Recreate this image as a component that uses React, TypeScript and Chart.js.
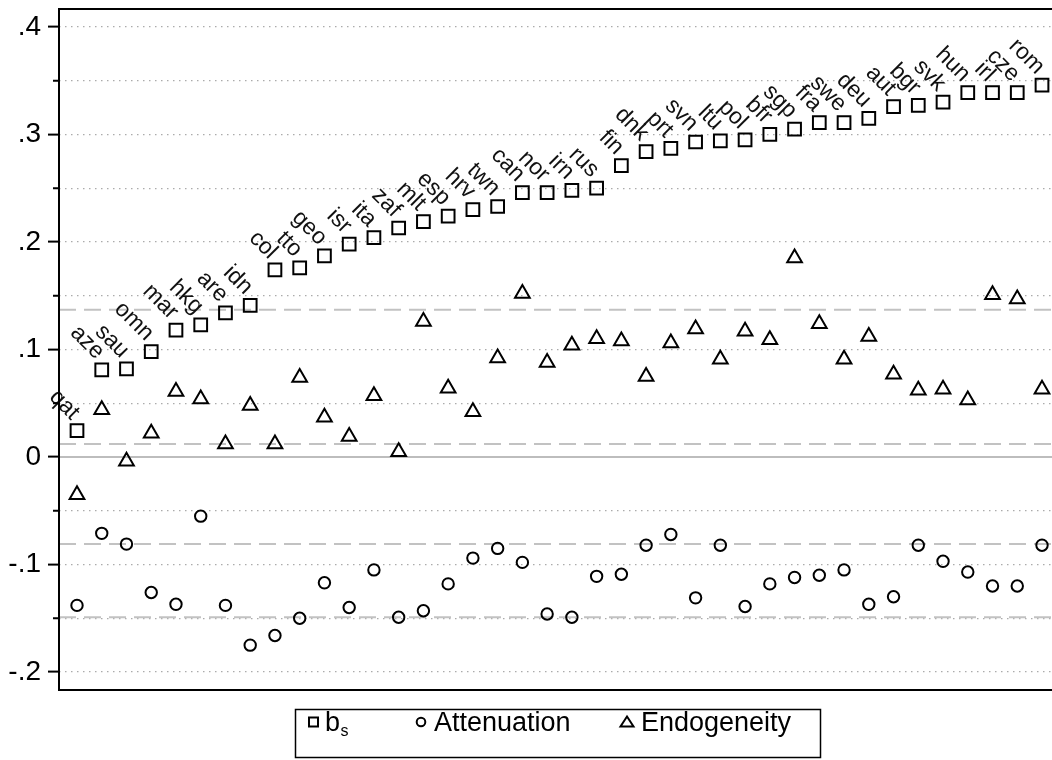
import React, { useEffect, useRef } from 'react';
import { Chart, registerables } from 'chart.js';

Chart.register(...registerables);

const countries = ['qat', 'aze', 'sau', 'omn', 'mar', 'hkg', 'are', 'idn', 'col', 'tto', 'geo', 'isr', 'ita', 'zaf', 'mlt', 'esp', 'hrv', 'twn', 'can', 'nor', 'irn', 'rus', 'fin', 'dnk', 'prt', 'svn', 'ltu', 'pol', 'bfr', 'sgp', 'fra', 'swe', 'deu', 'aut', 'bgr', 'svk', 'hun', 'irl', 'cze', 'rom'];

const bsValues = [0.0245, 0.081, 0.082, 0.098, 0.118, 0.123, 0.134, 0.141, 0.174, 0.176, 0.187, 0.198, 0.204, 0.213, 0.219, 0.224, 0.23, 0.233, 0.246, 0.246, 0.248, 0.25, 0.271, 0.284, 0.287, 0.293, 0.294, 0.295, 0.3, 0.305, 0.311, 0.311, 0.315, 0.326, 0.327, 0.33, 0.339, 0.339, 0.339, 0.346];

const attenuationValues = [-0.138, -0.071, -0.081, -0.126, -0.137, -0.055, -0.138, -0.175, -0.166, -0.15, -0.117, -0.14, -0.105, -0.149, -0.143, -0.118, -0.094, -0.085, -0.098, -0.146, -0.149, -0.111, -0.109, -0.082, -0.072, -0.131, -0.082, -0.139, -0.118, -0.112, -0.11, -0.105, -0.137, -0.13, -0.082, -0.097, -0.107, -0.12, -0.12, -0.082];

const endogeneityValues = [-0.035, 0.044, -0.004, 0.022, 0.061, 0.054, 0.012, 0.048, 0.012, 0.074, 0.037, 0.019, 0.057, 0.005, 0.126, 0.064, 0.042, 0.092, 0.152, 0.088, 0.104, 0.11, 0.108, 0.075, 0.106, 0.119, 0.091, 0.117, 0.109, 0.185, 0.124, 0.091, 0.112, 0.077, 0.062, 0.063, 0.053, 0.151, 0.147, 0.063];

const referenceLines = [0.137, 0.012, -0.081, -0.149];

const yTickValues = [-0.2, -0.15, -0.1, -0.05, 0, 0.05, 0.1, 0.15, 0.2, 0.25, 0.3, 0.35, 0.4];
const yTickLabels = ['-.2', '', '-.1', '', '0', '', '.1', '', '.2', '', '.3', '', '.4'];

const legendLabels = ['b_s', 'Attenuation', 'Endogeneity'];

const FONT = "'Liberation Sans', Arial, Helvetica, sans-serif";

const decorPlugin = {
  id: 'stataDecor',
  beforeDatasetsDraw(chart: any) {
    const { ctx, chartArea: a, scales } = chart;
    const y = scales.y;
    ctx.save();
    ctx.beginPath();
    ctx.rect(a.left, a.top, a.right - a.left, a.bottom - a.top);
    ctx.clip();
    const y0 = y.getPixelForValue(0);
    ctx.strokeStyle = '#bdbdbd';
    ctx.lineWidth = 2;
    ctx.setLineDash([]);
    ctx.beginPath();
    ctx.moveTo(a.left, y0);
    ctx.lineTo(a.right, y0);
    ctx.stroke();
    ctx.setLineDash([17, 8]);
    ctx.strokeStyle = '#c2c2c2';
    referenceLines.forEach((v) => {
      const py = y.getPixelForValue(v);
      ctx.beginPath();
      ctx.moveTo(a.left, py);
      ctx.lineTo(a.right, py);
      ctx.stroke();
    });
    ctx.restore();
  },
  afterDatasetsDraw(chart: any) {
    const { ctx, chartArea: a, scales } = chart;
    const y = scales.y;
    ctx.save();
    // country labels on b_s markers
    const meta = chart.getDatasetMeta(0);
    ctx.fillStyle = '#111';
    ctx.font = `23px ${FONT}`;
    ctx.textAlign = 'right';
    ctx.textBaseline = 'alphabetic';
    meta.data.forEach((pt: any, i: number) => {
      ctx.save();
      ctx.translate(pt.x - 6, pt.y - 10);
      ctx.rotate(Math.PI / 4);
      ctx.fillText(countries[i], 0, 0);
      ctx.restore();
    });

    // frame: left axis, top, bottom
    ctx.strokeStyle = '#000';
    ctx.lineWidth = 2;
    ctx.setLineDash([]);
    ctx.beginPath();
    ctx.moveTo(a.left, a.top);
    ctx.lineTo(a.left, a.bottom);
    ctx.moveTo(a.left - 1, a.top);
    ctx.lineTo(a.right, a.top);
    ctx.moveTo(a.left - 1, a.bottom);
    ctx.lineTo(a.right, a.bottom);
    ctx.stroke();

    // minor ticks
    ctx.beginPath();
    yTickValues.forEach((v, i) => {
      if (yTickLabels[i]) return;
      const py = y.getPixelForValue(v);
      ctx.moveTo(a.left - 6, py);
      ctx.lineTo(a.left, py);
    });
    ctx.stroke();

    // legend
    const lgLeft = 295;
    const lgTop = 709;
    const lgRight = 820;
    const lgBottom = 757;
    ctx.lineWidth = 1.5;
    ctx.strokeRect(lgLeft + 0.5, lgTop + 0.5, lgRight - lgLeft, lgBottom - lgTop);
    const cy = 722;
    const baseY = 730.5;
    ctx.fillStyle = '#000';
    ctx.textAlign = 'left';
    ctx.lineWidth = 2;
    // square
    ctx.strokeRect(309, cy - 4.5, 9, 9);
    const [main, sub] = legendLabels[0].split('_');
    ctx.font = `27px ${FONT}`;
    ctx.fillText(main, 325, baseY);
    const mw = ctx.measureText(main).width;
    ctx.font = `16px ${FONT}`;
    ctx.fillText(sub, 325 + mw + 0.5, baseY + 5);
    // circle
    ctx.beginPath();
    ctx.arc(421, cy, 4.3, 0, Math.PI * 2);
    ctx.stroke();
    ctx.font = `27px ${FONT}`;
    ctx.fillText(legendLabels[1], 434, baseY);
    // triangle
    ctx.beginPath();
    ctx.moveTo(627, cy - 5.5);
    ctx.lineTo(633.5, cy + 4.5);
    ctx.lineTo(620.5, cy + 4.5);
    ctx.closePath();
    ctx.stroke();
    ctx.fillText(legendLabels[2], 641, baseY);
    ctx.restore();
  },
};

export default function App() {
  const canvasRef = useRef<HTMLCanvasElement | null>(null);

  useEffect(() => {
    if (!canvasRef.current) return;
    const mk = (vals: number[]) => vals.map((v, i) => ({ x: i + 1, y: v }));
    const common = {
      borderColor: '#000',
      backgroundColor: 'rgba(0,0,0,0)',
      borderWidth: 2,
      showLine: false,
    };
    const chart = new Chart(canvasRef.current, {
      type: 'scatter',
      data: {
        datasets: [
          { ...common, label: legendLabels[0], data: mk(bsValues), pointStyle: 'rect', pointRadius: 9, pointHoverRadius: 9 },
          { ...common, label: legendLabels[1], data: mk(attenuationValues), pointStyle: 'circle', pointRadius: 5.7, pointHoverRadius: 5.7 },
          { ...common, label: legendLabels[2], data: mk(endogeneityValues), pointStyle: 'triangle', pointRadius: 8.5, pointHoverRadius: 8.5 },
        ],
      },
      options: {
        responsive: false,
        animation: false,
        events: [],
        layout: { autoPadding: false, padding: { left: 0, top: 9, right: 0, bottom: 70 } },
        plugins: {
          legend: { display: false },
          tooltip: { enabled: false },
        },
        scales: {
          x: {
            type: 'linear',
            min: 0.2726,
            max: 40.404,
            display: false,
          },
          y: {
            type: 'linear',
            min: -0.2167,
            max: 0.4167,
            afterBuildTicks: (axis: any) => {
              axis.ticks = yTickValues.map((v) => ({ value: v }));
            },
            afterFit: (scale: any) => {
              scale.width = 59;
              scale.paddingTop = 0;
              scale.paddingBottom = 0;
            },
            ticks: {
              autoSkip: false,
              padding: 7,
              color: '#000',
              font: { family: FONT, size: 28 },
              callback: (_v: any, index: number) => yTickLabels[index],
            },
            grid: {
              color: '#ababab',
              lineWidth: 1.2,
              drawTicks: true,
              tickLength: 11,
              tickWidth: 2,
              tickColor: (c: any) => (yTickLabels[c.index] ? '#000' : 'rgba(0,0,0,0)'),
            },
            border: { display: false, dash: [1.5, 4.5] },
          },
        },
      },
      plugins: [decorPlugin],
    } as any);
    return () => chart.destroy();
  }, []);

  return (
    <div style={{ position: 'fixed', left: 0, top: 0, width: 1052, height: 760, overflow: 'hidden', background: '#fff' }}>
      <canvas ref={canvasRef} width={1052} height={760} style={{ display: 'block' }} />
    </div>
  );
}
